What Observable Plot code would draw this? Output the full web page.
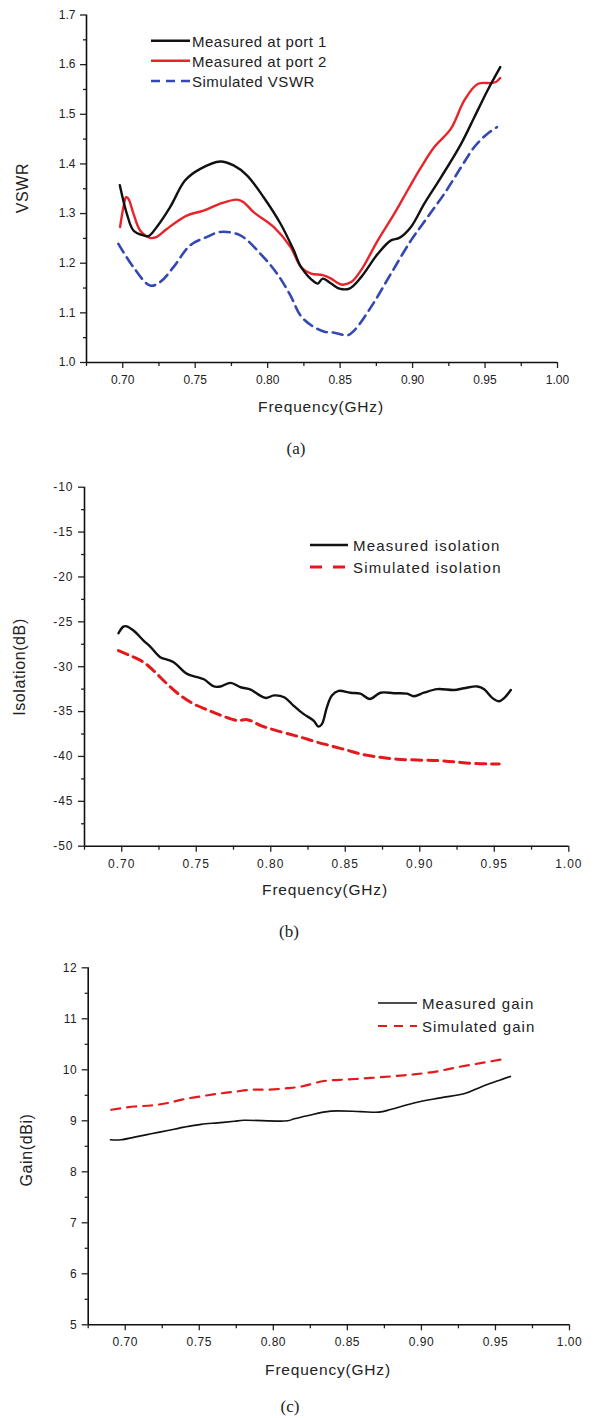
<!DOCTYPE html>
<html><head><meta charset="utf-8">
<script src="https://cdn.jsdelivr.net/npm/d3@7"></script>
<script src="https://cdn.jsdelivr.net/npm/@observablehq/plot@0.6"></script>
<style>
body{margin:0;background:#fff;}
#page{position:relative;width:596px;height:1418px;overflow:hidden;font-family:"Liberation Sans",Arial,sans-serif;color:#222;}
.panel{position:absolute;left:0;}
.lbl{position:absolute;white-space:nowrap;font-size:15.5px;letter-spacing:0.8px;transform:translate(-50%,-50%);}
.ylbl{position:absolute;white-space:nowrap;font-size:16px;letter-spacing:0.6px;transform:translate(-50%,-50%) rotate(-90deg);}
.cap{position:absolute;font-family:"Liberation Serif","Times New Roman",serif;font-size:17px;transform:translate(-50%,-50%);}
.leg{position:absolute;font-size:15px;white-space:nowrap;}
.leg svg{position:absolute;overflow:visible;}
.leg span{position:absolute;transform:translateY(-50%);}
</style>
</head><body><div id="page"></div>
<script>
// ---------- (a) VSWR ----------
const port1Freq = [0.698,0.7028,0.7074,0.7143,0.718,0.7235,0.7327,0.7431,0.7535,0.7673,0.7765,0.7857,0.7972,0.8088,0.818,0.8231,0.8323,0.8346,0.838,0.8438,0.8495,0.8564,0.8645,0.876,0.8851,0.8909,0.8989,0.9081,0.9196,0.9334,0.9426,0.9517,0.9605];
const port1VSWR = [1.357,1.30,1.266,1.256,1.255,1.273,1.313,1.367,1.39,1.405,1.397,1.377,1.333,1.28,1.226,1.192,1.162,1.159,1.169,1.159,1.149,1.149,1.172,1.219,1.246,1.251,1.273,1.32,1.373,1.44,1.494,1.548,1.595];
const port2Freq = [0.6982,0.7005,0.7023,0.7039,0.7074,0.712,0.7189,0.7235,0.7304,0.7442,0.7558,0.7673,0.7788,0.7834,0.7903,0.8041,0.8157,0.8231,0.83,0.838,0.8438,0.8507,0.8576,0.8645,0.876,0.8874,0.8966,0.9058,0.915,0.9265,0.9357,0.9449,0.954,0.9575,0.9605];
const port2VSWR = [1.273,1.313,1.333,1.33,1.30,1.266,1.251,1.253,1.269,1.296,1.306,1.32,1.328,1.323,1.303,1.273,1.233,1.192,1.179,1.176,1.169,1.157,1.162,1.186,1.246,1.30,1.347,1.393,1.434,1.471,1.528,1.561,1.563,1.565,1.573];
const simVFreq = [0.697,0.7074,0.7189,0.7258,0.735,0.7465,0.7581,0.7673,0.7811,0.795,0.8065,0.8157,0.8226,0.83,0.8392,0.8461,0.8553,0.8599,0.8714,0.8851,0.8989,0.9104,0.9219,0.9334,0.9426,0.9517,0.9582];
const simVSWR = [1.239,1.192,1.155,1.162,1.192,1.236,1.253,1.263,1.256,1.219,1.179,1.135,1.095,1.075,1.062,1.06,1.055,1.065,1.112,1.179,1.246,1.293,1.34,1.393,1.434,1.461,1.474];
const vswrTicks = [1.0,1.1,1.2,1.3,1.4,1.5,1.6,1.7];
const vswrMinor = [1.05,1.15,1.25,1.35,1.45,1.55,1.65];
// ---------- (b) Isolation ----------
const isoMeasFreq = [0.6978,0.7011,0.7034,0.7079,0.7146,0.7191,0.7258,0.7303,0.7348,0.7438,0.7506,0.7551,0.7618,0.7663,0.773,0.7798,0.7865,0.791,0.7966,0.8022,0.809,0.8152,0.8219,0.8287,0.832,0.8343,0.8377,0.841,0.8455,0.8534,0.8601,0.8664,0.8736,0.8826,0.8915,0.896,0.9028,0.9117,0.923,0.9297,0.9387,0.9432,0.9488,0.9533,0.9566,0.9611];
const isoMeas = [-26.27,-25.53,-25.5,-25.97,-27.09,-27.76,-28.95,-29.2,-29.5,-30.8,-31.17,-31.4,-32.2,-32.2,-31.8,-32.29,-32.55,-33.03,-33.48,-33.2,-33.4,-34.33,-35.26,-36.0,-36.67,-36.4,-34.5,-33.2,-32.7,-32.9,-33.0,-33.6,-32.9,-32.95,-33.0,-33.3,-32.9,-32.5,-32.6,-32.4,-32.2,-32.5,-33.5,-33.85,-33.5,-32.6];
const isoSimFreq = [0.6978,0.7056,0.7146,0.7213,0.7303,0.7393,0.7483,0.7573,0.7663,0.7775,0.7843,0.7933,0.8022,0.8135,0.8202,0.8309,0.8399,0.8511,0.8623,0.8736,0.8848,0.8983,0.9117,0.923,0.9342,0.9454,0.9533];
const isoSim = [-28.2,-28.76,-29.5,-30.43,-31.9,-33.2,-34.15,-34.8,-35.4,-36.0,-35.9,-36.56,-37.04,-37.56,-37.86,-38.4,-38.8,-39.3,-39.8,-40.09,-40.3,-40.4,-40.46,-40.6,-40.76,-40.83,-40.83];
const isoTicks = [-50,-45,-40,-35,-30,-25,-20,-15,-10];
const isoMinor = [-47.5,-42.5,-37.5,-32.5,-27.5,-22.5,-17.5,-12.5];
// ---------- (c) Gain ----------
const gainMeasFreq = [0.69,0.697,0.7063,0.7175,0.7288,0.74,0.7512,0.7625,0.7737,0.78,0.8097,0.8142,0.823,0.8388,0.859,0.8713,0.8792,0.8949,0.9129,0.9298,0.9399,0.9511,0.9601];
const gainMeas = [8.627,8.627,8.68,8.745,8.81,8.876,8.93,8.96,8.99,9.01,9.0,9.04,9.1,9.19,9.18,9.17,9.22,9.35,9.45,9.54,9.66,9.78,9.87];
const gainSimFreq = [0.6906,0.7063,0.7175,0.7288,0.7389,0.7512,0.7625,0.7737,0.785,0.7962,0.8097,0.8187,0.8343,0.85,0.8657,0.8815,0.8949,0.9107,0.9242,0.9399,0.9534,0.9567];
const gainSim = [9.216,9.28,9.30,9.35,9.42,9.48,9.53,9.57,9.61,9.61,9.64,9.67,9.78,9.81,9.84,9.875,9.91,9.97,10.05,10.13,10.20,10.22];
const gainTicks = [5,6,7,8,9,10,11,12];
const gainMinor = [5.5,6.5,7.5,8.5,9.5,10.5,11.5];
// ---------- shared x ----------
const freqDomain = [0.675, 1.0];
const freqTicks = [0.70,0.75,0.80,0.85,0.90,0.95,1.00];
const freqMinor = [0.675,0.725,0.775,0.825,0.875,0.925,0.975];

const zip = (xs, ys) => xs.map((x, i) => ({x, y: ys[i]}));
const page = document.getElementById("page");

function panel({top, height, mt, mb, ml, mr, yDomain, yTicks, yMinor, yFmt, series, spacing}) {
  const chart = Plot.plot({
    width: 596, height,
    marginTop: mt, marginBottom: mb, marginLeft: ml, marginRight: mr,
    style: {fontFamily: '"Liberation Sans", Arial, sans-serif', fontSize: "12px", color: "#222", background: "transparent", overflow: "visible", letterSpacing: spacing},
    x: {domain: freqDomain},
    y: {domain: yDomain},
    marks: [
      Plot.axisX({ticks: freqTicks, tickSize: 6, tickPadding: 7, tickFormat: d => d.toFixed(2), label: null, strokeWidth: 1.3}),
      Plot.axisX({ticks: freqMinor, tickSize: 4, tickFormat: () => "", label: null, strokeWidth: 1.3}),
      Plot.axisY({ticks: yTicks, tickSize: 6, tickPadding: 5, tickFormat: yFmt, label: null, strokeWidth: 1.3}),
      Plot.axisY({ticks: yMinor, tickSize: 3, tickFormat: () => "", label: null, strokeWidth: 1.3}),
      Plot.ruleY([yDomain[0]], {stroke: "#111", strokeWidth: 1.6}),
      Plot.ruleX([freqDomain[0]], {stroke: "#111", strokeWidth: 1.6}),
      ...series.map(s => Plot.line(zip(s.xs, s.ys), {x: "x", y: "y", stroke: s.color, strokeWidth: s.width, strokeDasharray: s.dash, curve: "catmull-rom"}))
    ]
  });
  chart.classList.add("panel");
  chart.style.top = top + "px";
  page.appendChild(chart);
}

panel({top: 0, height: 420, mt: 14.5, mb: 58, ml: 86, mr: 39,
  yDomain: [1.0, 1.7], yTicks: vswrTicks, yMinor: vswrMinor, yFmt: d => d.toFixed(1), spacing: "0px",
  series: [
    {xs: simVFreq, ys: simVSWR, color: "#3348b0", width: 2.6, dash: "10,6"},
    {xs: port2Freq, ys: port2VSWR, color: "#e8242a", width: 2.4},
    {xs: port1Freq, ys: port1VSWR, color: "#111", width: 2.4}
  ]});
panel({top: 470, height: 430, mt: 16.7, mb: 54.3, ml: 84, mr: 27.7,
  yDomain: [-50, -10], yTicks: isoTicks, yMinor: isoMinor, yFmt: d => String(d), spacing: "1px",
  series: [
    {xs: isoSimFreq, ys: isoSim, color: "#e3191c", width: 3, dash: "10,6"},
    {xs: isoMeasFreq, ys: isoMeas, color: "#111", width: 2.4}
  ]});
panel({top: 940, height: 440, mt: 27.3, mb: 55.7, ml: 87.7, mr: 27,
  yDomain: [5, 12], yTicks: gainTicks, yMinor: gainMinor, yFmt: d => String(d), spacing: "0.5px",
  series: [
    {xs: gainSimFreq, ys: gainSim, color: "#e3191c", width: 2.2, dash: "9,7"},
    {xs: gainMeasFreq, ys: gainMeas, color: "#111", width: 1.6}
  ]});

// text labels
function addDiv(cls, text, x, y, extra) {
  const d = document.createElement("div");
  d.className = cls; d.textContent = text;
  d.style.left = x + "px"; d.style.top = y + "px";
  if (extra) Object.assign(d.style, extra);
  page.appendChild(d);
}
addDiv("lbl", "Frequency(GHz)", 321, 407);
addDiv("lbl", "Frequency(GHz)", 325, 890);
addDiv("lbl", "Frequency(GHz)", 328, 1370);
addDiv("ylbl", "VSWR", 23, 188);
addDiv("ylbl", "Isolation(dB)", 20, 667);
addDiv("ylbl", "Gain(dBi)", 27, 1150);
addDiv("cap", "(a)", 296, 449);
addDiv("cap", "(b)", 289, 932);
addDiv("cap", "(c)", 290, 1407);

// legends
function legend(items, x0, x1, tx, ys, spacing) {
  items.forEach((it, i) => {
    const g = document.createElement("div");
    g.className = "leg"; g.style.left = "0px"; g.style.top = "0px";
    const svgNS = "http://www.w3.org/2000/svg";
    const svg = document.createElementNS(svgNS, "svg");
    svg.setAttribute("width", 1); svg.setAttribute("height", 1);
    svg.style.left = "0px"; svg.style.top = "0px";
    const ln = document.createElementNS(svgNS, "line");
    ln.setAttribute("x1", x0); ln.setAttribute("x2", x1);
    ln.setAttribute("y1", ys[i]); ln.setAttribute("y2", ys[i]);
    ln.setAttribute("stroke", it.color); ln.setAttribute("stroke-width", it.width);
    if (it.dash) ln.setAttribute("stroke-dasharray", it.dash);
    svg.appendChild(ln);
    const sp = document.createElement("span");
    sp.textContent = it.label; sp.style.left = tx + "px"; sp.style.top = ys[i] + "px";
    sp.style.letterSpacing = spacing;
    g.appendChild(svg); g.appendChild(sp);
    page.appendChild(g);
  });
}
legend([
  {label: "Measured at port 1", color: "#111", width: 2.4},
  {label: "Measured at port 2", color: "#e8242a", width: 2.4},
  {label: "Simulated VSWR", color: "#3348b0", width: 2.6, dash: "9,6"}
], 151, 190, 192, [40.7, 60.7, 81], "0.5px");
legend([
  {label: "Measured isolation", color: "#111", width: 2.4},
  {label: "Simulated isolation", color: "#e3191c", width: 3, dash: "12,11"}
], 310, 348, 353, [545, 567], "1.2px");
legend([
  {label: "Measured gain", color: "#111", width: 1.6},
  {label: "Simulated gain", color: "#e3191c", width: 2.2, dash: "9,7"}
], 378, 417, 422, [1003, 1026], "1px");
</script>
</body></html>
